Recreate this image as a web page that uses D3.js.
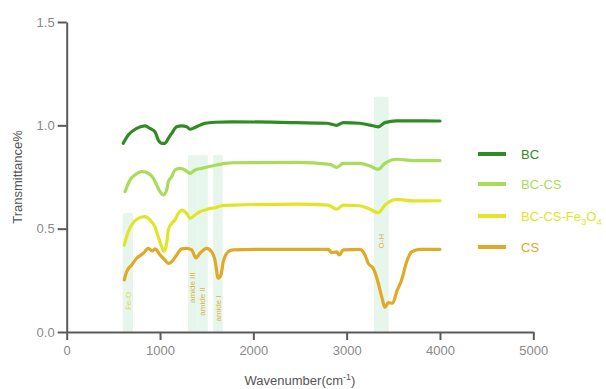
<!DOCTYPE html>
<html><head><meta charset="utf-8">
<script src="https://cdn.jsdelivr.net/npm/d3@7"></script>
<style>body{margin:0;background:#fff}svg{display:block;font-family:"Liberation Sans",Arial,sans-serif}</style>
</head><body><svg id="c" width="606" height="389"></svg>
<script>
const seriesNames = ["BC", "BC-CS", "BC-CS-Fe3O4", "CS"];
const seriesColors = ["#2f8c22", "#a9dc5b", "#e2e427", "#e0a927"];

const bcX = [606,660,750,839,892,946,981,1018,1053,1089,1125,1179,1232,1286,1321,1375,1428,1482,1589,1768,2464,2786,2893,2964,3142,3250,3339,3410,3536,3714,3981,4000];
const bcY = [0.913,0.953,0.985,0.997,0.985,0.969,0.929,0.913,0.913,0.937,0.961,0.993,0.997,0.993,0.981,0.990,1.001,1.010,1.015,1.017,1.013,1.010,1.000,1.013,1.010,1.001,0.993,1.013,1.022,1.022,1.021,1.021];

const bccsX = [625,678,732,804,874,928,964,1000,1035,1071,1089,1125,1160,1214,1268,1321,1375,1446,1554,1696,1785,2464,2821,2893,2964,3142,3250,3339,3410,3536,3714,3981,4000];
const bccsY = [0.679,0.735,0.760,0.776,0.768,0.744,0.711,0.679,0.663,0.687,0.727,0.751,0.784,0.792,0.784,0.768,0.784,0.792,0.803,0.816,0.819,0.821,0.811,0.797,0.816,0.816,0.803,0.787,0.816,0.836,0.829,0.829,0.829];

const feX = [617,660,696,767,839,892,946,981,1018,1046,1071,1089,1125,1160,1196,1232,1286,1321,1375,1428,1482,1535,1589,1661,1785,2464,2803,2893,2964,3142,3250,3339,3410,3536,3714,3981,4000];
const feY = [0.421,0.485,0.518,0.550,0.558,0.542,0.509,0.461,0.413,0.390,0.429,0.493,0.526,0.542,0.574,0.590,0.574,0.550,0.566,0.582,0.590,0.598,0.601,0.611,0.614,0.619,0.614,0.594,0.614,0.611,0.594,0.577,0.614,0.642,0.634,0.635,0.635];

const csX = [617,643,696,750,821,874,917,946,1000,1053,1089,1125,1179,1232,1286,1339,1385,1428,1500,1554,1589,1624,1653,1678,1731,1785,2107,2803,2839,2893,2921,2964,3142,3196,3231,3285,3339,3375,3410,3446,3493,3536,3589,3643,3696,3785,3981,4000];
const csY = [0.252,0.292,0.324,0.357,0.381,0.405,0.392,0.402,0.373,0.348,0.332,0.340,0.373,0.402,0.405,0.397,0.359,0.381,0.405,0.388,0.348,0.260,0.276,0.340,0.388,0.397,0.400,0.400,0.384,0.388,0.373,0.397,0.400,0.373,0.332,0.308,0.236,0.171,0.119,0.142,0.139,0.195,0.252,0.340,0.388,0.400,0.400,0.400];

const bandLabels = ["Fe-O", "amide III", "amide II", "amide I", "O-H"];
const bandStart = [600, 1300, 1398, 1570, 3293];
const bandEnd = [710, 1396, 1512, 1672, 3451];
const bandTop = [0.576, 0.856, 0.856, 0.856, 1.138];
const bandLabelY = [0.150, 0.215, 0.148, 0.114, 0.44];
const bandLabelColors = ["#dcd63c", "#e0b23e", "#e0b23e", "#e0b23e", "#e0b23e"];

const xTicks = [0, 1000, 2000, 3000, 4000, 5000];
const yTicks = [0.0, 0.5, 1.0, 1.5];

const svg = d3.select("#c");
const x = d3.scaleLinear().domain([0, 5000]).range([66.7, 533.3]);
const y = d3.scaleLinear().domain([0, 1.5]).range([332, 22]);

// bands
bandLabels.forEach((lab, i) => {
  svg.append("rect")
    .attr("x", x(bandStart[i])).attr("y", y(bandTop[i]))
    .attr("width", x(bandEnd[i]) - x(bandStart[i]))
    .attr("height", y(0) - y(bandTop[i]))
    .attr("fill", "#e6f6ec");
});
bandLabels.forEach((lab, i) => {
  const cx = (x(bandStart[i]) + x(bandEnd[i])) / 2;
  const cy = y(bandLabelY[i]);
  svg.append("text").text(lab)
    .attr("transform", `translate(${cx + 3},${cy}) rotate(-90)`)
    .attr("text-anchor", "middle")
    .attr("font-size", 8)
    .attr("fill", bandLabelColors[i]);
});

// axes
const gx = svg.append("g").attr("transform", `translate(0,${y(0)})`)
  .call(d3.axisBottom(x).tickValues(xTicks).tickFormat(d3.format("d")).tickSize(8).tickSizeOuter(0).tickPadding(6));
const gy = svg.append("g").attr("transform", `translate(${x(0)},0)`)
  .call(d3.axisLeft(y).tickValues(yTicks).tickFormat(d3.format(".1f")).tickSize(9).tickSizeOuter(0).tickPadding(3));
[gx, gy].forEach(g => {
  g.select(".domain").attr("stroke", "#5a5a5a").attr("stroke-width", 2);
  g.selectAll(".tick line").attr("stroke", "#5a5a5a").attr("stroke-width", 2);
  g.selectAll(".tick text").attr("fill", "#8a8a8a").attr("font-size", 13).attr("font-family", '"Liberation Sans",Arial,sans-serif');
});

// titles
svg.append("text").attr("transform", `translate(22,${(y(0)+y(1.5))/2}) rotate(-90)`)
  .attr("text-anchor", "middle").attr("font-size", 13).attr("fill", "#555").text("Transmittance%");
const xt = svg.append("text").attr("x", 300).attr("y", 385).attr("text-anchor", "middle")
  .attr("font-size", 13).attr("fill", "#555");
xt.append("tspan").text("Wavenumber(cm");
xt.append("tspan").attr("dy", -5).attr("font-size", 9).text("-1");
xt.append("tspan").attr("dy", 5).text(")");

// lines
const allX = [bcX, bccsX, feX, csX];
const allY = [bcY, bccsY, feY, csY];
const line = d3.line().x(d => x(d[0])).y(d => y(d[1])).curve(d3.curveMonotoneX);
allX.forEach((xs, i) => {
  const pts = xs.map((v, j) => [v, allY[i][j]]);
  svg.append("path").datum(pts).attr("d", line)
    .attr("fill", "none").attr("stroke", seriesColors[i])
    .attr("stroke-width", 3.2).attr("stroke-linejoin", "round").attr("stroke-linecap", "round");
});

// legend
const legY = [154, 184, 216, 247];
seriesNames.forEach((n, i) => {
  svg.append("line").attr("x1", 478).attr("x2", 506).attr("y1", legY[i]).attr("y2", legY[i])
    .attr("stroke", seriesColors[i]).attr("stroke-width", 4);
  const t = svg.append("text").attr("x", 521).attr("y", legY[i] + 5)
    .attr("font-size", 13).attr("fill", seriesColors[i]);
  if (n === "BC-CS-Fe3O4") {
    t.append("tspan").text("BC-CS-Fe");
    t.append("tspan").attr("dy", 4).attr("font-size", 9.5).text("3");
    t.append("tspan").attr("dy", -4).text("O");
    t.append("tspan").attr("dy", 4).attr("font-size", 9.5).text("4");
  } else {
    t.text(n);
  }
});
</script></body></html>
